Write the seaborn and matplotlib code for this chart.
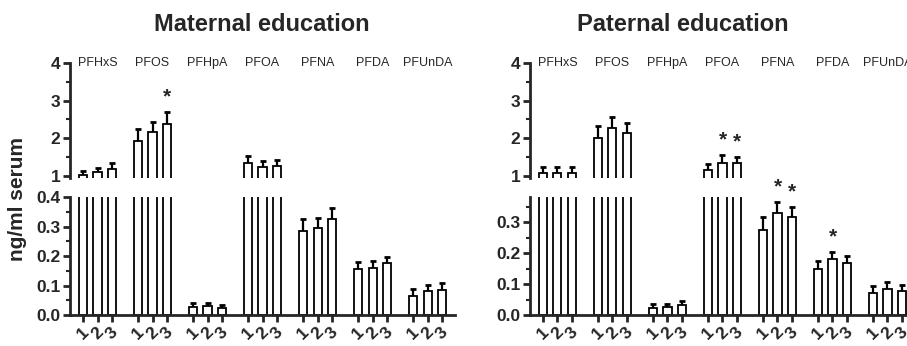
"""Уровни ПФАС в сыворотке по образованию матери и отца (broken y-axis)."""

import numpy as np
import pandas as pd
import matplotlib
matplotlib.use("Agg")
import matplotlib.pyplot as plt
from matplotlib.ticker import MultipleLocator
import seaborn as sns

COMPOUNDS = ["PFHxS", "PFOS", "PFHpA", "PFOA", "PFNA", "PFDA", "PFUnDA"]
LEVELS = ["1", "2", "3"]

# среднее и SEM, ng/ml, по уровням образования 1/2/3
MAT_MEAN = [[1.03, 1.10, 1.20], [1.93, 2.16, 2.38], [0.027, 0.030, 0.024],
            [1.34, 1.25, 1.26], [0.287, 0.297, 0.326], [0.155, 0.160, 0.177],
            [0.065, 0.082, 0.086]]
MAT_SEM = [[0.10, 0.12, 0.14], [0.31, 0.27, 0.31], [0.013, 0.010, 0.010],
           [0.19, 0.15, 0.16], [0.041, 0.034, 0.037], [0.025, 0.024, 0.021],
           [0.022, 0.020, 0.023]]
MAT_STARS = [("PFOS", "3")]

PAT_MEAN = [[1.07, 1.09, 1.09], [2.02, 2.28, 2.15], [0.023, 0.026, 0.031],
            [1.16, 1.36, 1.34], [0.275, 0.328, 0.315], [0.148, 0.180, 0.167],
            [0.072, 0.085, 0.078]]
PAT_SEM = [[0.17, 0.15, 0.15], [0.31, 0.29, 0.26], [0.013, 0.010, 0.013],
           [0.16, 0.19, 0.17], [0.041, 0.037, 0.034], [0.025, 0.023, 0.024],
           [0.022, 0.022, 0.019]]
PAT_STARS = [("PFOA", "2"), ("PFOA", "3"), ("PFNA", "2"), ("PFNA", "3"),
             ("PFDA", "2")]

TOP_LIM = (0.95, 4.0)

sns.set_style("ticks")
plt.rcParams["font.family"] = ["Liberation Sans", "DejaVu Sans"]
plt.rcParams["axes.linewidth"] = 2


def to_frame(means, sems):
    rows = []
    for i, comp in enumerate(COMPOUNDS):
        for j, lev in enumerate(LEVELS):
            rows.append({"compound": comp, "level": lev,
                         "mean": means[i][j], "sem": sems[i][j]})
    return pd.DataFrame(rows)


def draw_bars(ax, df):
    sns.barplot(data=df, x="compound", y="mean", hue="level",
                order=COMPOUNDS, hue_order=LEVELS,
                palette={l: "white" for l in LEVELS}, saturation=1,
                edgecolor="black", linewidth=1.3, gap=0.45,
                errorbar=None, legend=False, ax=ax)
    bar_conts = list(ax.containers)
    xs, tops = {}, {}
    for j, cont in enumerate(bar_conts):
        for i, bar in enumerate(cont):
            x = bar.get_x() + bar.get_width() / 2
            h = bar.get_height()
            s = df.loc[(df.compound == COMPOUNDS[i]) & (df.level == LEVELS[j]), "sem"].iloc[0]
            _, caps, _ = ax.errorbar([x], [h], yerr=[[0], [s]], fmt="none",
                                     ecolor="black", elinewidth=1.6,
                                     capsize=2.5, capthick=2)
            caps[0].set_visible(False)
            xs[(COMPOUNDS[i], LEVELS[j])] = x
            tops[(COMPOUNDS[i], LEVELS[j])] = h + s
    return xs, tops


def draw_panel(ax_top, ax_bot, means, sems, stars, bot_max, bot_ticks, title, title_x):
    df = to_frame(means, sems)
    for ax in (ax_top, ax_bot):
        xs, tops = draw_bars(ax, df)
        ax.set_xlim(-0.5, 6.5)
        ax.set_xlabel("")
        ax.set_ylabel("")
        for key in stars:
            ax.annotate("*", (xs[key], tops[key]), xytext=(0, 7),
                        textcoords="offset points", ha="center", va="baseline",
                        fontsize=15, fontweight="bold", annotation_clip=True)

    ax_top.set_ylim(*TOP_LIM)
    ax_top.set_yticks([1, 2, 3, 4])
    ax_top.yaxis.set_minor_locator(MultipleLocator(0.5))
    ax_top.set_xticks([])
    sns.despine(ax=ax_top, bottom=True)
    for i, comp in enumerate(COMPOUNDS):
        ax_top.text(i, TOP_LIM[1], comp, ha="center", va="center", fontsize=9)

    ax_bot.set_ylim(0, bot_max)
    ax_bot.set_yticks(bot_ticks)
    ax_bot.set_yticklabels([f"{t:.1f}" for t in bot_ticks])
    ax_bot.yaxis.set_minor_locator(MultipleLocator(0.05))
    pos = sorted(xs.values())
    ax_bot.set_xticks(pos)
    ax_bot.set_xticklabels(LEVELS * len(COMPOUNDS), rotation=45, ha="center",
                           fontsize=12.5, fontweight="bold")
    sns.despine(ax=ax_bot)

    for ax in (ax_top, ax_bot):
        ax.tick_params(axis="both", which="major", length=5, width=2,
                       labelsize=12.5, pad=2)
        ax.tick_params(axis="y", which="minor", length=3, width=1.5)
        for lab in ax.get_yticklabels():
            lab.set_fontweight("bold")

    fig.text(title_x, 0.910, title, ha="center", va="baseline",
             fontsize=17, fontweight="bold")


fig = plt.figure(figsize=(9.07, 3.46), dpi=100)
W = 0.4245
ax_lt = fig.add_axes([0.0772, 0.4855, W, 0.3333])
ax_lb = fig.add_axes([0.0772, 0.0896, W, 0.340])
ax_rt = fig.add_axes([0.5843, 0.4855, W, 0.3333])
ax_rb = fig.add_axes([0.5843, 0.0896, W, 0.340])

draw_panel(ax_lt, ax_lb, MAT_MEAN, MAT_SEM, MAT_STARS, 0.4,
           [0.0, 0.1, 0.2, 0.3, 0.4], "Maternal education", 0.289)
draw_panel(ax_rt, ax_rb, PAT_MEAN, PAT_SEM, PAT_STARS, 0.38,
           [0.0, 0.1, 0.2, 0.3], "Paternal education", 0.753)

fig.text(0.019, 0.425, "ng/ml serum", rotation=90, ha="center", va="center",
         fontsize=15, fontweight="bold")

fig.savefig("out.png", dpi=100)
plt.close(fig)
